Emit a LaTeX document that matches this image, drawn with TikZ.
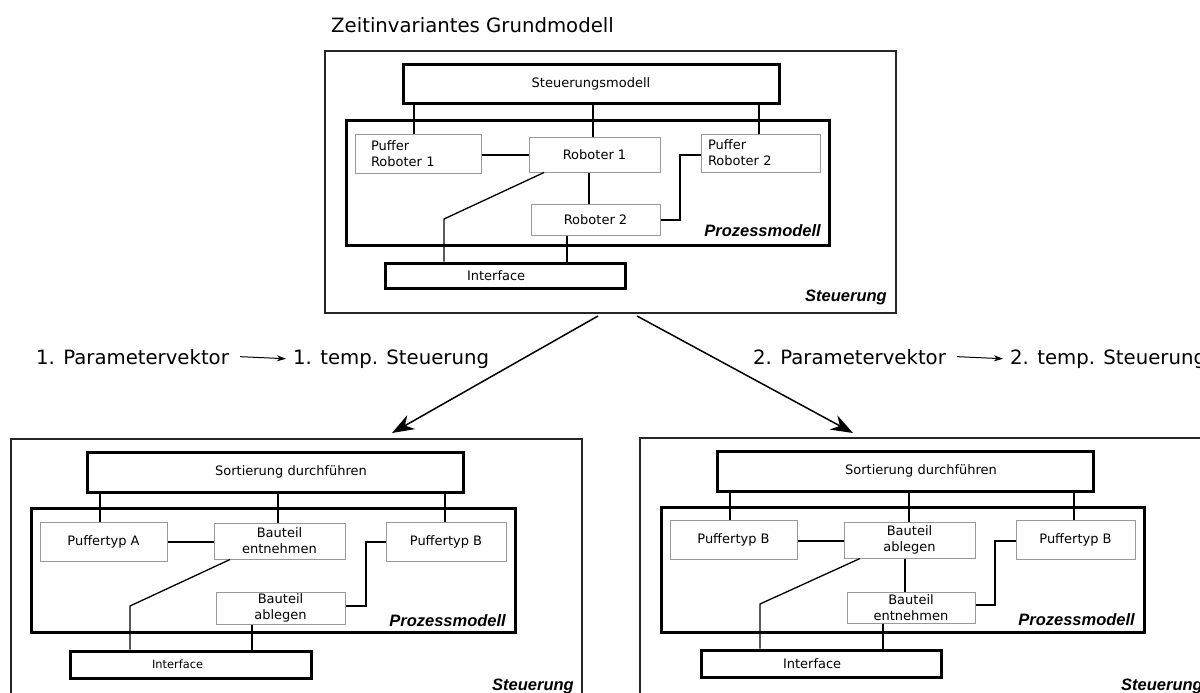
\documentclass[tikz,border=0pt]{standalone}
\usepackage{fontspec}
\setmainfont{DejaVu Sans}
\newfontfamily\lsans{Liberation Sans}
\usetikzlibrary{arrows.meta}
\newcommand\nfs{\fontsize{13}{16}\selectfont}
\begin{document}
\begin{tikzpicture}[x=1pt,y=-1pt,
  outerbox/.style={draw=black!85, line width=1.3pt, inner sep=0pt},
  thickbox/.style={draw=black, line width=3pt, inner sep=0pt, font=\nfs},
  grbox/.style={draw=black!40, line width=1pt, inner sep=0pt, font=\nfs},
  conn/.style={line width=1.3pt},
  lbl/.style={font=\lsans\bfseries\itshape\fontsize{16.5}{18}\selectfont, inner sep=0pt},
  big/.style={font=\fontsize{19.7}{23}\selectfont, inner sep=0pt},
  bigarrow/.style={line width=1.5pt, -{Stealth[length=22pt,width=16pt,inset=7pt]}},
  smallarrow/.style={line width=1pt, -{Stealth[length=9pt,width=6pt,inset=2.5pt]}}]
\clip (0,0) rectangle (1200,693);
\fill[white] (0,0) rectangle (1200,693);

% ---------- top diagram ----------
\node[big, anchor=base west] (title) at (331,33) {Zeitinvariantes Grundmodell};
\node[outerbox, minimum width=571pt, minimum height=262pt] (ctrlT) at (610.5,182) {};
\node[thickbox, minimum width=376pt, minimum height=38pt] (smT) at (591,84) {Steuerungsmodell};
\node[thickbox, minimum width=483pt, minimum height=125pt] (pmT) at (587.5,182.5) {};
\node[grbox, minimum width=126pt, minimum height=39pt, text width=94pt, align=left] (pr1) at (418,153.5) {Puffer\\Roboter 1};
\node[grbox, minimum width=119pt, minimum height=38pt, text width=105pt, align=left] (pr2) at (760.5,153) {Puffer\\Roboter 2};
\node[grbox, minimum width=131pt, minimum height=35pt] (r1) at (594.5,154.5) {Roboter 1};
\node[grbox, minimum width=129pt, minimum height=31pt] (r2) at (595.5,219.5) {Roboter 2};
\node[thickbox, minimum width=240pt, minimum height=25pt, text width=76pt, align=left] (ifT) at (505,275.5) {Interface};
\node[lbl, anchor=base east] (pmTl) at (821,236) {Prozessmodell};
\node[lbl, anchor=base east] (ctTl) at (887,301) {Steuerung};

\draw[conn] (smT.south -| 414,0) -- (pr1.north -| 414,0);
\draw[conn] (smT.south -| 593,0) -- (r1.north -| 593,0);
\draw[conn] (smT.south -| 759,0) -- (pr2.north -| 759,0);
\draw[conn] (pr1.east |- 0,155) -- (r1.west |- 0,155);
\draw[conn] (r1.south -| 589,0) -- (r2.north -| 589,0);
\draw[conn] (r2.east |- 0,220) -- (680,220) -- (680,155) -- (pr2.west |- 0,155);
\draw[conn] (r1.south -| 544,0) -- (444,219) -- (ifT.north -| 444,0);
\draw[conn] (r2.south -| 567,0) -- (ifT.north -| 567,0);

% ---------- arrows and parameter text ----------
\coordinate (a1s) at (598,316);
\coordinate (a1e) at (392,433);
\coordinate (a2s) at (637,316);
\coordinate (a2e) at (853,433);
\draw[bigarrow] (a1s) -- (a1e);
\draw[bigarrow] (a2s) -- (a2e);

\node[big, anchor=base west] (p1) at (36,364) {1. Parametervektor};
\node[big, anchor=base west] (t1) at (293,364) {1. temp. Steuerung};
\draw[smallarrow] ([xshift=11pt]p1.east) -- ([xshift=-7pt]t1.west);
\node[big, anchor=base west] (p2) at (753,364) {2. Parametervektor};
\node[big, anchor=base west] (t2) at (1010,364) {2. temp. Steuerung};
\draw[smallarrow] ([xshift=11pt]p2.east) -- ([xshift=-7pt]t2.west);

% ---------- bottom left ----------
\node[outerbox, minimum width=571pt, minimum height=264pt] (ctrlL) at (296.5,571) {};
\node[thickbox, minimum width=376pt, minimum height=40pt] (soL) at (275,472) {\hspace*{32pt}Sortierung durchführen};
\node[thickbox, minimum width=484pt, minimum height=124pt] (pmL) at (273,570) {};
\node[grbox, minimum width=127pt, minimum height=39pt] (paL) at (103.5,541.5) {Puffertyp A};
\node[grbox, minimum width=131pt, minimum height=36pt, align=center] (beL) at (279.5,541) {Bauteil\\entnehmen};
\node[grbox, minimum width=120pt, minimum height=39pt] (pbL) at (446,541.5) {Puffertyp B};
\node[grbox, minimum width=129pt, minimum height=32pt, align=center] (baL) at (280.5,608) {Bauteil\\ablegen};
\node[thickbox, minimum width=241pt, minimum height=27pt, text width=77pt, align=left, font=\fontsize{11.4}{14}\selectfont] (ifL) at (190.5,664.5) {Interface};
\node[lbl, anchor=base east] (pmLl) at (506,626) {Prozessmodell};
\node[lbl, anchor=base east] (ctLl) at (574,690) {Steuerung};

\draw[conn] (soL.south -| 100,0) -- (paL.north -| 100,0);
\draw[conn] (soL.south -| 278,0) -- (beL.north -| 278,0);
\draw[conn] (soL.south -| 445,0) -- (pbL.north -| 445,0);
\draw[conn] (paL.east |- 0,542) -- (beL.west |- 0,542);
\draw[conn] (baL.east |- 0,606) -- (366,606) -- (366,542) -- (pbL.west |- 0,542);
\draw[conn] (beL.south -| 230,0) -- (130,606) -- (ifL.north -| 130,0);
\draw[conn] (baL.south -| 252,0) -- (ifL.north -| 252,0);

% ---------- bottom right ----------
\node[outerbox, minimum width=571pt, minimum height=265pt] (ctrlR) at (925.5,570.5) {};
\node[thickbox, minimum width=376pt, minimum height=40pt] (soR) at (905,471) {\hspace*{32pt}Sortierung durchführen};
\node[thickbox, minimum width=483pt, minimum height=125pt] (pmR) at (902.5,569.5) {};
\node[grbox, minimum width=127pt, minimum height=39pt] (pbR1) at (733.5,539.5) {Puffertyp B};
\node[grbox, minimum width=131pt, minimum height=36pt, align=center] (baR) at (909.5,540) {Bauteil\\ablegen};
\node[grbox, minimum width=119pt, minimum height=39pt] (pbR2) at (1075.5,539.5) {Puffertyp B};
\node[grbox, minimum width=128pt, minimum height=31pt, align=center] (beR) at (911,607.5) {Bauteil\\entnehmen};
\node[thickbox, minimum width=240pt, minimum height=27pt, text width=76pt, align=left] (ifR) at (821,663.5) {Interface};
\node[lbl, anchor=base east] (pmRl) at (1135,625) {Prozessmodell};
\node[lbl, anchor=base east] (ctRl) at (1203,690) {Steuerung};

\draw[conn] (soR.south -| 730,0) -- (pbR1.north -| 730,0);
\draw[conn] (soR.south -| 909,0) -- (baR.north -| 909,0);
\draw[conn] (soR.south -| 1074,0) -- (pbR2.north -| 1074,0);
\draw[conn] (pbR1.east |- 0,541) -- (baR.west |- 0,541);
\draw[conn] (baR.south -| 905,0) -- (beR.north -| 905,0);
\draw[conn] (beR.east |- 0,605) -- (995,605) -- (995,541) -- (pbR2.west |- 0,541);
\draw[conn] (baR.south -| 860,0) -- (760,604) -- (ifR.north -| 760,0);
\draw[conn] (beR.south -| 883,0) -- (ifR.north -| 883,0);
\end{tikzpicture}
\end{document}
